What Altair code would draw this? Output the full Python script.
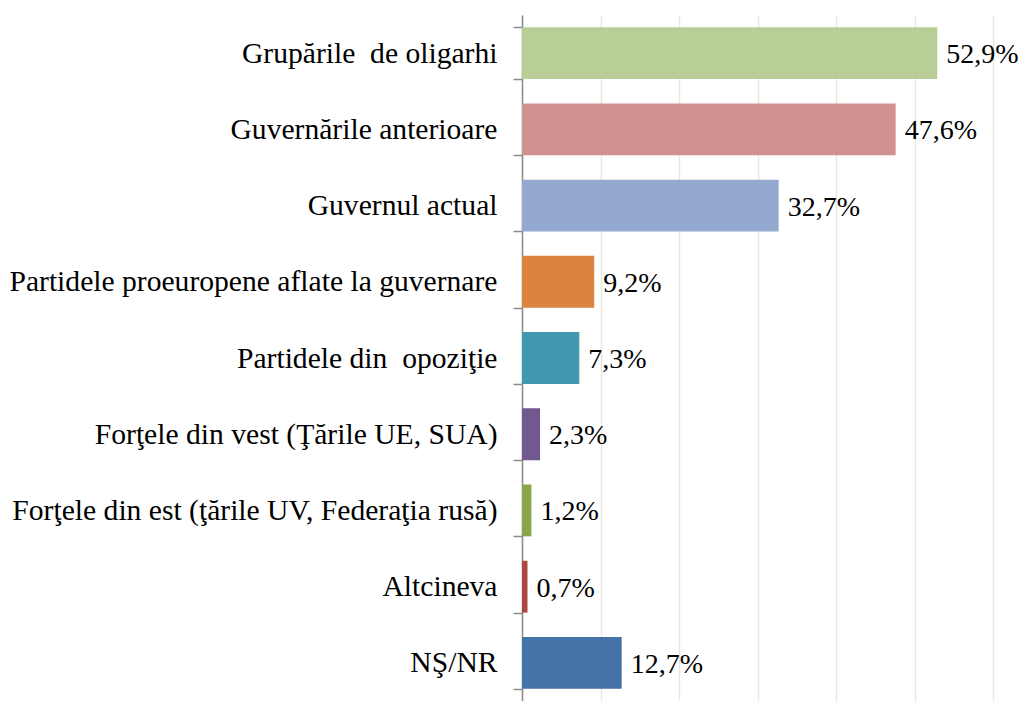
import altair as alt
import pandas as pd

categories = [
    "Grupările \u00a0de oligarhi",
    "Guvernările anterioare",
    "Guvernul actual",
    "Partidele proeuropene aflate la guvernare",
    "Partidele din \u00a0opoziţie",
    "Forţele din vest (Ţările UE, SUA)",
    "Forţele din est (ţările UV, Federaţia rusă)",
    "Altcineva\u00a0",
    "NŞ/NR",
]
values = [52.9, 47.6, 32.7, 9.2, 7.3, 2.3, 1.2, 0.7, 12.7]
colors = ["#B9CD96", "#CF928F", "#93A9CF", "#DB843D", "#4198AF",
          "#71588F", "#89A54E", "#AA4643", "#4572A7"]

df = pd.DataFrame({
    "cat": categories,
    "val": values,
    "label": [f"{v:.1f}".replace(".", ",") + "%" for v in values],
})

FONT = "Liberation Serif, Times New Roman, serif"

y_enc = alt.Y("cat:N", sort=categories, title=None,
              scale=alt.Scale(paddingInner=0.32, paddingOuter=0.16),
              axis=alt.Axis(labelFont=FONT, labelFontSize=29.6, labelColor="#000000",
                            labelPadding=16, labelLimit=600, tickBand="extent",
                            tickSize=9, tickColor="#8C8C8C", tickWidth=1.5,
                            domainColor="#8C8C8C", domainWidth=1.5, grid=False))
x_enc = alt.X("val:Q", title=None,
              scale=alt.Scale(domain=[0, 60], nice=False),
              axis=alt.Axis(values=[0, 10, 20, 30, 40, 50, 60], grid=True,
                            gridColor="#EAE8DC", gridWidth=1.5,
                            labels=False, ticks=False, domain=False))

bars = alt.Chart(df).mark_bar().encode(
    x=x_enc, y=y_enc,
    color=alt.Color("cat:N", sort=categories,
                    scale=alt.Scale(domain=categories, range=colors), legend=None),
)
text = alt.Chart(df).mark_text(align="left", baseline="middle", dx=9, dy=2,
                               font=FONT, fontSize=28, color="#000000").encode(
    x="val:Q", y=alt.Y("cat:N", sort=categories), text="label:N")

chart = (bars + text).properties(
    width=471, height=686,
    autosize=alt.AutoSizeParams(type="none"),
    padding={"left": 514, "top": 7, "right": 26, "bottom": 0},
).configure_view(stroke=None)

chart.save("out.html", embed_options={"renderer": "svg", "actions": False})
